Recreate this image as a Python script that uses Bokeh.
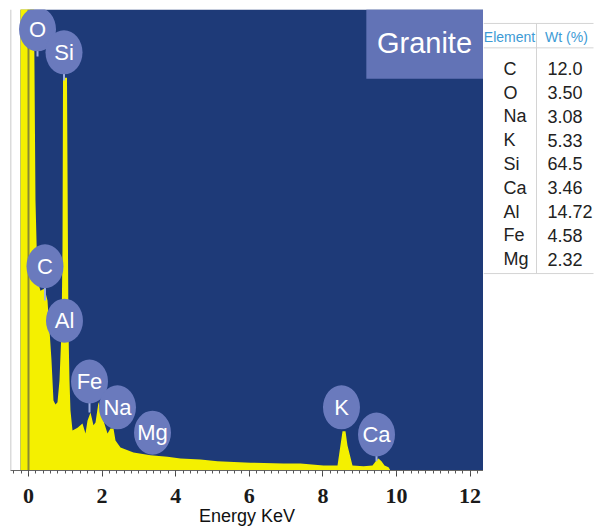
from bokeh.plotting import figure
from bokeh.models import BoxAnnotation, Label, Span, SingleIntervalTicker, Range1d
from bokeh.layouts import row
from bokeh.core.properties import value
from bokeh.embed import file_html
from bokeh.resources import INLINE

# ---------------- data ----------------
energy_kev = [-0.217, 0.136, 0.190, 0.245, 0.326, 0.435, 0.516, 0.571, 0.625, 0.679, 0.734,
              0.788, 0.842, 0.897, 0.924, 0.938, 1.046, 1.073, 1.087, 1.114, 1.141, 1.196,
              1.332, 1.467, 1.549, 1.603, 1.685, 1.766, 1.821, 1.902, 1.984, 2.038, 2.147,
              2.228, 2.310, 2.364, 2.500, 2.853, 3.315, 3.777, 4.130, 4.674, 5.136, 6.033,
              6.929, 7.391, 8.016, 8.397, 8.533, 8.614, 8.668, 8.804, 9.103, 9.348, 9.457,
              9.511, 9.592, 9.674, 9.783, 9.837]
counts = [115, 115, 58.6, 41.2, 39.0, 39.5, 36.9, 30.4, 23.9, 15.2, 14.3,
          14.8, 19.5, 30.4, 47.7, 85.2, 85.2, 47.7, 30.4, 19.5, 13.0, 8.7,
          9.3, 10.2, 8.0, 10.8, 12.6, 9.8, 10.4, 14.8, 12.6, 10.8, 8.0,
          9.1, 9.1, 6.5, 5.0, 3.9, 3.3, 3.0, 2.6, 2.4, 2.0, 1.7,
          1.5, 1.5, 1.1, 1.1, 8.5, 8.5, 5.4, 1.1, 0.9, 1.1, 2.2,
          2.6, 2.0, 1.1, 0.7, 0.0]

peak_labels = ["O", "Si", "C", "Al", "Fe", "Na", "Mg", "K", "Ca"]
label_kev = [0.245, 0.965, 0.448, 0.978, 1.658, 2.418, 3.370, 8.505, 9.457]
label_counts = [95.7, 90.7, 44.3, 32.5, 19.3, 13.7, 8.2, 13.7, 7.8]
stem_counts = [89.8, 84.6, 36.9, 32.5, 12.6, 13.7, 8.2, 13.7, 2.0]

table_header = ["Element", "Wt (%)"]
table_elements = ["C", "O", "Na", "K", "Si", "Ca", "Al", "Fe", "Mg"]
table_wt = ["12.0", "3.50", "3.08", "5.33", "64.5", "3.46", "14.72", "4.58", "2.32"]

sample_name = "Granite"
x_title = "Energy KeV"

# ---------------- styling ----------------
NAVY = "#1e3a78"
YELLOW = "#f4f000"
BUBBLE = "#6a7abd"
BOX = "#6273b6"
X_START, X_END = -0.489, 12.364
BLUE_LEFT = -0.217

p = figure(width=483, height=529, x_range=Range1d(X_START, X_END), y_range=Range1d(0, 100),
           output_backend="svg", toolbar_location=None, y_axis_location=None,
           min_border_left=10, min_border_right=0, min_border_top=9, min_border_bottom=59)
p.outline_line_color = None
p.grid.visible = False
p.background_fill_color = "white"
p.border_fill_color = "white"

p.add_layout(BoxAnnotation(left=BLUE_LEFT, fill_color=NAVY, fill_alpha=1.0,
                           line_color=None, level="underlay"))
p.add_layout(Span(location=X_START, dimension="height", line_color="#b8b8b8", line_width=1.5))

p.varea(x=energy_kev, y1=0, y2=counts, fill_color=YELLOW)
p.vspan(x=[0], line_color="#8c8c30", line_width=2)

p.segment(x0=label_kev, y0=label_counts, x1=label_kev, y1=stem_counts,
          line_color="#9fb0e0", line_width=2)
p.ellipse(x=label_kev, y=label_counts, width=37, height=44,
          width_units="screen", height_units="screen",
          fill_color=BUBBLE, line_color=None)
p.text(x=label_kev, y=label_counts, text=peak_labels, text_align="center",
       text_baseline="middle", text_color="white",
       text_font=value("Liberation Sans"), text_font_size="22px")

p.add_layout(BoxAnnotation(left=9.18, bottom=85.0, fill_color=BOX, fill_alpha=1.0, line_color=None))
p.add_layout(Label(x=10.76, y=92.8, text=sample_name, text_align="center", text_baseline="middle",
                   text_color="white", text_font="Liberation Sans", text_font_size="29px"))

ax = p.xaxis[0]
ax.ticker = SingleIntervalTicker(interval=2, num_minor_ticks=10)
ax.axis_line_color = "#666666"
ax.major_tick_line_color = "#444444"
ax.minor_tick_line_color = "#555555"
ax.major_tick_in = 0
ax.major_tick_out = 6
ax.minor_tick_in = 0
ax.minor_tick_out = 3
ax.major_label_standoff = 12
ax.major_label_text_font = "Liberation Serif"
ax.major_label_text_font_style = "bold"
ax.major_label_text_font_size = "22px"
ax.major_label_text_color = "#1a1a1a"
ax.axis_label = x_title
ax.axis_label_standoff = 0
ax.axis_label_text_font = "Liberation Sans"
ax.axis_label_text_font_style = "normal"
ax.axis_label_text_font_size = "18px"
ax.axis_label_text_color = "#111111"

# ---------------- table ----------------
TW, TH = 118, 529
t = figure(width=TW, height=TH, x_range=Range1d(0, TW), y_range=Range1d(TH, 0),
           output_backend="svg", toolbar_location=None, x_axis_location=None,
           y_axis_location=None, min_border=0)
t.outline_line_color = None
t.grid.visible = False
t.background_fill_color = "white"
t.border_fill_color = "white"

line_y = [16, 44, 303]
t.segment(x0=[0] * 3, y0=line_y, x1=[110] * 3, y1=line_y, line_color="#d4d4d4", line_width=1)
t.segment(x0=[53], y0=[16], x1=[53], y1=[303], line_color="#d4d4d4", line_width=1)

t.text(x=[26, 83], y=[31, 31], text=table_header, text_align="center", text_baseline="middle",
       text_color="#3d9bd5", text_font=value("Liberation Sans"), text_font_size="14px")
row_y = [68 + 27.3 * i for i in range(len(table_elements))]
t.text(x=[20] * len(table_elements), y=row_y, text=table_elements, text_align="left",
       text_baseline="middle", text_color="#222222",
       text_font=value("Liberation Sans"), text_font_size="18px")
t.text(x=[64] * len(table_wt), y=row_y, text=table_wt, text_align="left",
       text_baseline="middle", text_color="#222222",
       text_font=value("Liberation Sans"), text_font_size="18px")

layout = row(p, t)
open("out.html", "w").write(file_html(layout, INLINE))
